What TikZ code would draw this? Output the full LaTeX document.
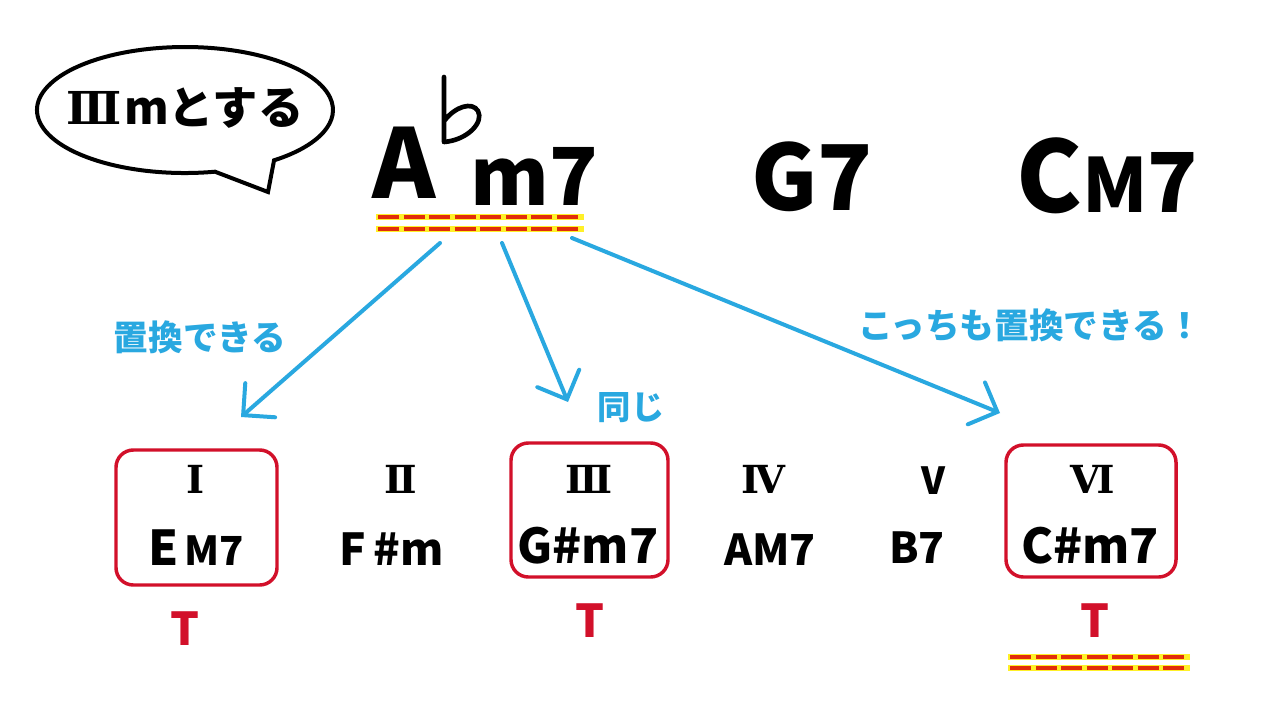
\documentclass[tikz,border=0pt]{standalone}
\usepackage{fontspec}
\setmainfont{Noto Sans CJK JP}
\newfontfamily\romfont{DejaVu Serif}
\usetikzlibrary{arrows.meta}
\definecolor{myblue}{RGB}{41,168,224}
\definecolor{myred}{RGB}{210,16,42}
\definecolor{ulred}{RGB}{225,45,10}
\definecolor{ulyel}{RGB}{255,240,40}
\newcommand{\fs}[1]{\fontsize{#1}{#1}\selectfont}
\begin{document}
\begin{tikzpicture}[x=0.75pt,y=-0.75pt,
  txt/.style={inner sep=0pt, font=\bfseries},
  rom/.style={inner sep=0pt, font=\romfont\bfseries\fs{29}},
  bluetxt/.style={inner sep=0pt, text=myblue},
  chordbox/.style={draw=myred, line width=2.6pt, rounded corners=13pt, inner sep=0pt},
  conn/.style={draw=myblue, line width=3pt, line cap=round, -{Straight Barb[length=17pt,width=34pt,line cap=round]}},
  tlabel/.style={inner sep=0pt, text=myred},
  ulyellow/.style={draw=ulyel, line width=5.2pt},
  ulredline/.style={draw=ulred, line width=3pt, dash pattern=on 15.75pt off 3.4pt},
]
\useasboundingbox[fill=white] (0,0) rectangle (1280,720);

% speech bubble
\draw[line width=3pt, line join=miter, fill=white] (215,171.7) arc[start angle=78.3, end angle=413, x radius=148, y radius=63] -- (268,192) -- cycle;
\node[inner sep=0pt, font=\bfseries\fs{34}] (say) at (185,108) {{\romfont\fs{34}Ⅲ}\hspace{2pt}mとする};

% top chords
\node[inner sep=0pt, font=\bfseries\fs{72}, anchor=base west] (A) at (372,199) {A};
\draw[line width=3.5pt, line cap=round, line join=round] (444,77) -- (444,142) .. controls (468,140) and (484,122) .. (478,111) .. controls (472,101) and (455,107) .. (445,120);
\node[inner sep=0pt, font=\bfseries\fs{60}, anchor=base west] (m7) at (470,206) {m7};
\node[inner sep=0pt, font=\bfseries\fs{68}] (G7) at (812,177) {G7};
\node[inner sep=0pt, anchor=base west, font=\bfseries] (CM7) at (1016,213) {\fs{74}C\fs{56}M\fs{62}7};

% underlines
\foreach \yy in {217,229} {
  \draw[ulyellow] (376,\yy) -- (584,\yy);
  \draw[ulredline] (378,\yy) -- (582,\yy);
}
\foreach \yy in {657,668} {
  \draw[ulyellow] (1008,\yy) -- (1190,\yy);
  \draw[ulredline] (1010,\yy) -- (1188,\yy);
}

% arrows
\coordinate (s1) at (440,243); \coordinate (e1) at (241,417);
\coordinate (s2) at (502,243); \coordinate (e2) at (568,402);
\coordinate (s3) at (572,238); \coordinate (e3) at (1000,413);
\draw[conn] (s1) -- (e1);
\draw[conn] (s2) -- (e2);
\draw[conn] (s3) -- (e3);

% blue labels
\node[bluetxt, font=\bfseries\fs{26}] (lab1) at (200,337) {置換できる};
\node[bluetxt, font=\bfseries\fs{25}] (lab2) at (631,408) {同じ};
\node[bluetxt, font=\bfseries\fs{26}] (lab3) at (1030,325) {こっちも置換できる！};

% boxes
\node[chordbox, minimum width=120.75pt, minimum height=101.25pt] (box1) at (196.5,517.5) {};
\node[chordbox, minimum width=117.75pt, minimum height=100.5pt] (box3) at (589.5,510) {};
\node[chordbox, minimum width=127.5pt, minimum height=99pt] (box6) at (1091,511) {};

% roman numerals
\node[rom] (r1) at (196,479) {Ⅰ};
\node[rom] (r2) at (401,479) {Ⅱ};
\node[rom] (r3) at (589,479) {Ⅲ};
\node[rom] (r4) at (763,479) {Ⅳ};
\node[txt, font=\bfseries\fs{28}] (r5) at (933,481) {V};
\node[rom] (r6) at (1093,479) {Ⅵ};

% chords in key
\node[txt, anchor=base] (c1) at (196,565) {\fs{36}E\hspace{4pt}\fs{30}M7};
\node[txt, anchor=base, font=\bfseries\fs{33}] (c2) at (392,565) {F\,\#m};
\node[txt, anchor=base, font=\bfseries\fs{36}] (c3) at (588,563) {G\#m7};
\node[txt, anchor=base, font=\bfseries\fs{32}] (c4) at (770,565) {AM7};
\node[txt, anchor=base, font=\bfseries\fs{32}] (c5) at (917,563) {B7};
\node[txt, anchor=base, font=\bfseries\fs{36}] (c6) at (1090,563) {C\#m7};

% tonic labels
\node[tlabel, font=\bfseries\fs{34}] (t1) at (185,629) {T};
\node[tlabel, font=\bfseries\fs{34}] (t3) at (590,621) {T};
\node[tlabel, font=\bfseries\fs{34}] (t6) at (1095,621) {T};
\end{tikzpicture}
\end{document}
